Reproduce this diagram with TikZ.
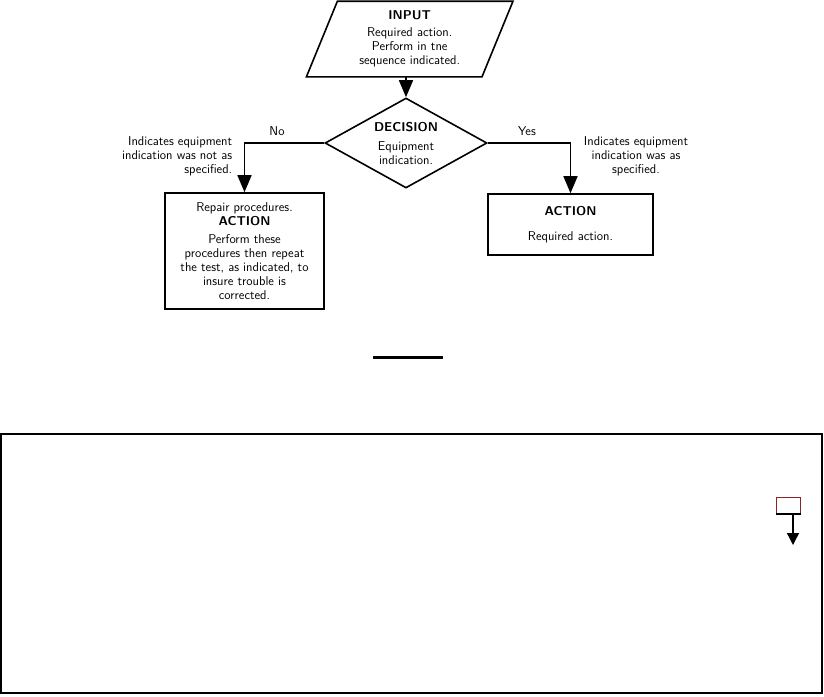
\documentclass[tikz,border=0pt]{standalone}
\usepackage{tikz}
\usetikzlibrary{shapes.geometric, arrows.meta, positioning, calc}
\definecolor{markred}{HTML}{8B2327}

\begin{document}
\begin{tikzpicture}[x=1pt, y=-1pt, line width=1.6pt,
    every node/.style={font=\fontsize{12.8}{14}\selectfont\sffamily, align=center},
    flow/.style={-{Triangle[width=14pt, length=17pt]}},
    actbox/.style={draw, rectangle, inner sep=0pt},
    note/.style={inner sep=0pt}]
  \useasboundingbox (0,0) rectangle (824,696);
  % input parallelogram
  \node[minimum width=174pt, minimum height=74pt, inner sep=0pt] (input) at (409.7,39)
    {\textbf{INPUT}\\[3pt] Required action.\\ Perform in tne\\ sequence indicated.};
  \draw ($(input.north west)+(15.5,0)$) -- ($(input.north east)+(15.5,0)$)
    -- ($(input.south east)+(-15.5,0)$) -- ($(input.south west)+(-15.5,0)$) -- cycle;
  % decision
  \node[draw, diamond, minimum width=162pt, minimum height=90pt, inner sep=0pt] (dec) at (406,143) {};
  \node[note] (dectext) at (406,143) {\textbf{DECISION}\\[5pt] Equipment\\ indication.};
  \node[actbox, minimum width=159pt, minimum height=116pt] (repair) at (244.5,251)
    {Repair procedures.\\ \textbf{ACTION}\\[4pt] Perform these\\ procedures then repeat\\ the test, as indicated, to\\ insure trouble is\\ corrected.};
  \node[actbox, minimum width=165pt, minimum height=61pt] (act) at (570.5,224.5)
    {\textbf{ACTION}\\[11pt] Required action.};
  \draw[flow] (dec.north |- input.south) -- (dec.north);
  \draw[flow] (dec.west) -| (repair.north);
  \draw[flow] (dec.east) -| (act.north);
  \node[note] (no) at (277,131) {No};
  \node[note] (yes) at (527,131) {Yes};
  \node[note, align=right, anchor=north east] (notno) at (233,136)
    {Indicates equipment\\ indication was not as\\ specified.};
  \node[note, anchor=north] (notyes) at (636,136)
    {Indicates equipment\\ indication was as\\ specified.};
  % rule and lower frame
  \draw[line width=3pt] (373,357) -- (443,357);
  \draw[line width=2.5pt] (1,434) rectangle (822,693);
  \node[draw=markred, line width=1pt, minimum width=24pt, minimum height=16pt, inner sep=0pt] (mark) at (788,505) {};
  \draw[line width=2pt] (mark.south west) -- (mark.south east);
  \coordinate (markend) at (793,545);
  \draw[line width=1.4pt, -{Triangle[width=12pt, length=12pt]}] (mark.south -| markend) -- (markend);
\end{tikzpicture}
\end{document}
